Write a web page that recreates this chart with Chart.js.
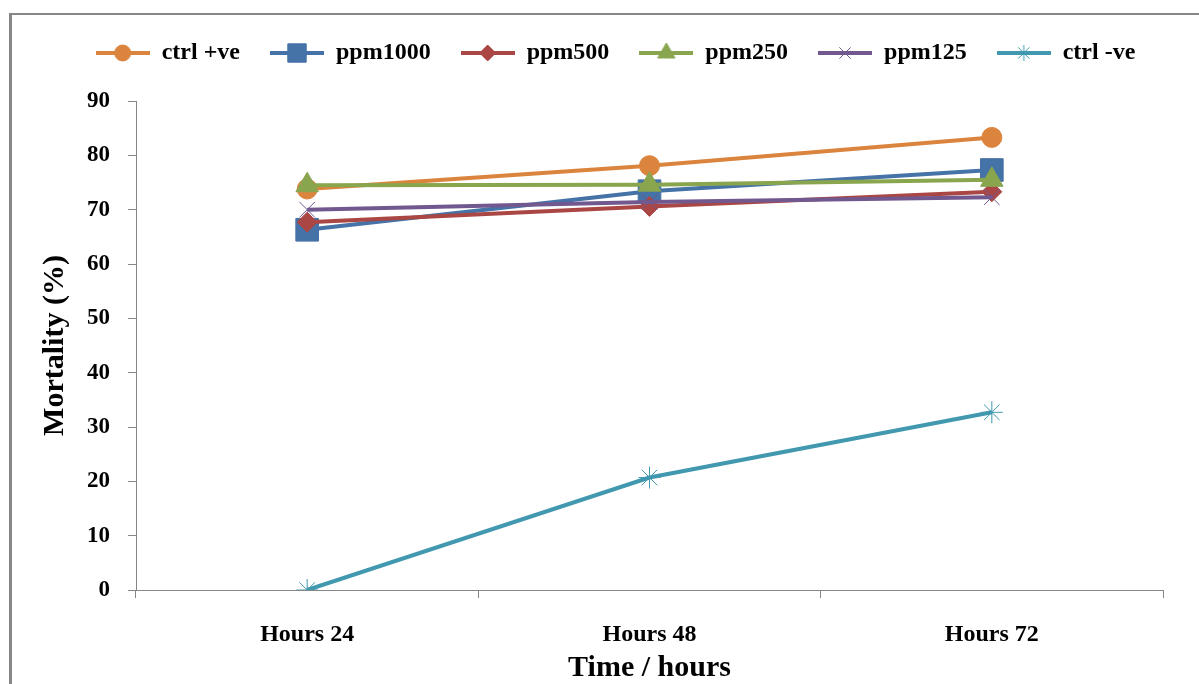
<!DOCTYPE html>
<html>
<head>
<meta charset="utf-8">
<script src="https://cdn.jsdelivr.net/npm/chart.js@4/dist/chart.umd.min.js"></script>
<style>
    html, body { margin: 0; padding: 0; background: #fff; }
    #wrap { position: relative; width: 1199px; height: 684px; overflow: hidden; }
    #frame { position: absolute; left: 9px; top: 13px; width: 1300px; height: 1000px;
             border-left: 3px solid #878787; border-top: 2px solid #878787; pointer-events: none; }
</style>
</head>
<body>
<div id="wrap">
    <canvas id="myChart" width="1199" height="684"></canvas>
    <div id="frame"></div>
</div>
<script>
// categorias e valores
const categorias = ['Hours 24', 'Hours 48', 'Hours 72'];
const ctrlPositivo = [73.8, 78.1, 83.3];
const ppm1000 = [66.3, 73.4, 77.3];
const ppm500 = [67.7, 70.6, 73.3];
const ppm250 = [74.5, 74.6, 75.5];
const ppm125 = [70.0, 71.4, 72.3];
const ctrlNegativo = [0, 20.7, 32.7];

const fonte = '"Liberation Serif", "Times New Roman", serif';

// estilo de cada série
const series = [
    { label: 'ctrl +ve', data: ctrlPositivo, color: '#DB843D', style: 'circle', r: 10, lr: 8, bw: 1 },
    { label: 'ppm1000', data: ppm1000, color: '#4572A7', style: 'rect', r: 16, lr: 13, bw: 1 },
    { label: 'ppm500', data: ppm500, color: '#AA4643', style: 'rectRot', r: 10, lr: 8, bw: 1 },
    { label: 'ppm250', data: ppm250, color: '#89A54E', style: 'triangle', r: 13, lr: 10, bw: 1 },
    { label: 'ppm125', data: ppm125, color: '#71588F', style: 'crossRot', r: 11, lr: 8, bw: 1 },
    { label: 'ctrl -ve', data: ctrlNegativo, color: '#4198AF', style: 'star', r: 11, lr: 8, bw: 1 }
];

// ícone da legenda: linha + marcador
function legendIcon(s) {
    const c = document.createElement('canvas');
    c.width = 54;
    c.height = 24;
    const g = c.getContext('2d');
    g.strokeStyle = s.color;
    g.lineWidth = 4;
    g.beginPath();
    g.moveTo(0, 12);
    g.lineTo(54, 12);
    g.stroke();
    g.fillStyle = s.color;
    g.lineWidth = s.bw;
    Chart.helpers.drawPoint(g, { pointStyle: s.style, radius: s.lr, rotation: 0, borderWidth: s.bw }, 27, 12);
    return c;
}
const icones = series.map(legendIcon);

// altura fixa da legenda e deslocamento horizontal
const ajusteLegenda = {
    id: 'ajusteLegenda',
    afterInit(chart) {
        const lg = chart.legend;
        const fitOrig = lg.fit;
        lg.fit = function () {
            fitOrig.call(this);
            this.height = 90;
        };
    },
    afterLayout(chart) {
        chart.legend.left += 24;
        chart.legend.right += 24;
    }
};

const ctx = document.getElementById('myChart').getContext('2d');
const myChart = new Chart(ctx, {
    type: 'line',
    data: {
        labels: categorias,
        datasets: series.map((s, i) => ({
            label: s.label,
            data: s.data,
            borderColor: s.color,
            backgroundColor: s.color,
            borderWidth: 4,
            pointStyle: s.style,
            pointRadius: s.r,
            pointBorderWidth: s.bw,
            pointBackgroundColor: s.color,
            pointBorderColor: s.color,
            tension: 0,
            order: series.length - i
        }))
    },
    options: {
        responsive: false,
        animation: false,
        layout: { padding: { left: 20, right: 36, top: 11, bottom: 0 } },
        scales: {
            x: {
                offset: true,
                grid: { offset: true, drawOnChartArea: false, drawTicks: true, tickLength: 8, color: '#878787', lineWidth: 1 },
                border: { color: '#878787', width: 1 },
                ticks: { color: '#000', padding: 22, font: { family: fonte, size: 24, weight: 'bold' } },
                title: { display: true, text: 'Time / hours', color: '#000', padding: { top: 0, bottom: -2 },
                         font: { family: fonte, size: 30, weight: 'bold' } },
                afterFit: scale => { scale.height = 94; }
            },
            y: {
                min: 0,
                max: 90,
                ticks: { stepSize: 10, color: '#000', padding: 18, font: { family: fonte, size: 23, weight: 'bold' } },
                grid: { drawOnChartArea: false, drawTicks: true, tickLength: 8, color: '#878787', lineWidth: 1 },
                border: { color: '#878787', width: 1 },
                title: { display: true, text: 'Mortality (%)', color: '#000', padding: { top: 17, bottom: 0 },
                         font: { family: fonte, size: 30, weight: 'bold' } },
                afterFit: scale => { scale.width = 116; }
            }
        },
        plugins: {
            tooltip: { enabled: false },
            legend: {
                position: 'top',
                labels: {
                    usePointStyle: true,
                    pointStyleWidth: 54,
                    boxHeight: 24,
                    padding: 30,
                    color: '#000',
                    font: { family: fonte, size: 24, weight: 'bold' },
                    sort: (a, b) => a.datasetIndex - b.datasetIndex,
                    generateLabels: function (chart) {
                        const itens = Chart.defaults.plugins.legend.labels.generateLabels(chart);
                        itens.forEach(it => { it.pointStyle = icones[it.datasetIndex]; });
                        return itens;
                    }
                }
            }
        }
    },
    plugins: [ajusteLegenda]
});
</script>
</body>
</html>
